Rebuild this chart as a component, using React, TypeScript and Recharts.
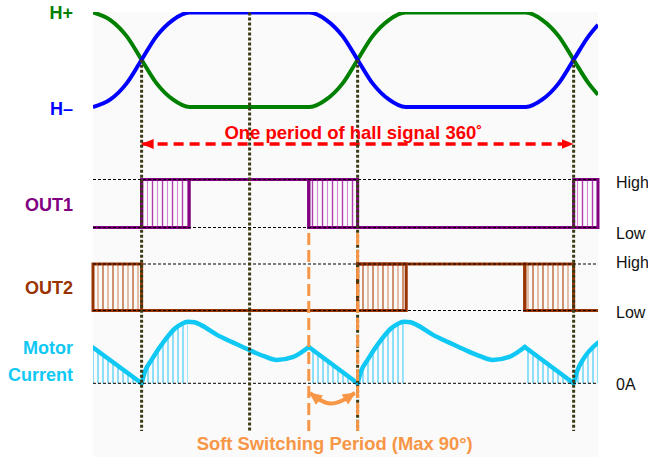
import {
  ComposedChart,
  Line,
  Area,
  XAxis,
  YAxis,
  CartesianGrid,
  ReferenceLine,
  ReferenceArea,
  ReferenceDot,
} from 'recharts';

const FONT = '"Liberation Sans", Arial, sans-serif';

// x axis = electrical degrees, 0 at the first hall crossing
const X_MIN = -40.5;
const X_MAX = 380.3;

// hall sensor levels (1 = high)
const hallDeg = [-40.5, -26, -12.5, 0, 12.5, 26, 40, 140, 154, 167.5, 180, 192.5, 206, 220, 320, 334, 347.5, 360, 372.5, 380.3];
const hPlus = [1, 0.92, 0.75, 0.5, 0.25, 0.08, 0, 0, 0.08, 0.25, 0.5, 0.75, 0.92, 1, 1, 0.92, 0.75, 0.5, 0.25, 0.13];
const hMinus = [0, 0.08, 0.25, 0.5, 0.75, 0.92, 1, 1, 0.92, 0.75, 0.5, 0.25, 0.08, 0, 0, 0.08, 0.25, 0.5, 0.75, 0.87];

// output levels outside the PWM boxes
const out1Deg = [-40.5, 0, 0, 139.3, 139.3, 380.3];
const out1Lvl = [0, 0, 1, 1, 0, 0];
const out2Deg = [0, 180, 180, 319.3, 319.3, 380.3];
const out2Lvl = [0, 0, 1, 1, 0, 0];

// soft switching PWM windows [start, end]
const out1Pwm = [[0, 39.7], [139.3, 180], [360, 380.3]];
const out2Pwm = [[-40.5, 0], [180, 220.5], [319.3, 360]];

// motor current (1 = peak)
const curDeg = [-40.5, 0, 2.75, 8.3, 19.4, 27.75, 33, 38.5, 44, 50, 62.5, 76.4, 89.7, 102, 112.5, 126.4, 139.3, 180, 182.75, 188.3, 199.4, 207.75, 213, 218.5, 224, 230, 242.5, 256.4, 269.7, 282, 292.5, 306.4, 319.3, 360, 362.75, 368.3, 380.3];
const curLvl = [0.58, 0, 0.19, 0.38, 0.7, 0.89, 0.96, 1, 0.99, 0.94, 0.79, 0.66, 0.54, 0.44, 0.38, 0.43, 0.59, 0, 0.19, 0.38, 0.7, 0.89, 0.96, 1, 0.99, 0.94, 0.79, 0.66, 0.54, 0.44, 0.38, 0.43, 0.59, 0, 0.19, 0.4, 0.66];
const curCorners = [0, 139.3, 180, 319.3, 360];

// dotted markers and the hall level each starts from
const markDeg = [0, 90, 180, 360];
const markFrom = [0.5, 1, 0.5, 0.5];

const softWin = [139.3, 180];

const laneNames = ['H+', 'H–', 'OUT1', 'OUT2', 'Motor\nCurrent'];
const levelNames = ['High', 'Low', 'High', 'Low', '0A'];

// layout: y axis is reversed so rows read top-down
const ROW = {
  hallHi: 12.5, hallLo: 107,
  o1Hi: 179.5, o1Lo: 227.5,
  o2Hi: 264, o2Lo: 310.5,
  zero: 383.3, amp: 61.6,
  markEnd: 431, softTop: 233,
  arrow: 144, title: 132.7, note: 443.3,
};
const laneRows = [13, 109, 204.7, 287.3, 361.2];
const laneColors = ['#008000', '#0000ff', '#800080', '#993300', '#10c8f4'];
const levelRows = [182.2, 233, 262, 312, 384.2];

const hallRow = (lv: number) => ROW.hallLo - lv * (ROW.hallLo - ROW.hallHi);
const hPlusData = hallDeg.map((x, i) => ({ x, y: hallRow(hPlus[i]) }));
const hMinusData = hallDeg.map((x, i) => ({ x, y: hallRow(hMinus[i]) }));
const out1Data = out1Deg.map((x, i) => ({ x, y: out1Lvl[i] ? ROW.o1Hi : ROW.o1Lo }));
const out2Data = out2Deg.map((x, i) => ({ x, y: out2Lvl[i] ? ROW.o2Hi : ROW.o2Lo }));
const curData = curDeg.map((x, i) => ({ x, y: ROW.zero - curLvl[i] * ROW.amp }));

// split current at its sharp corners
const curPieces: { x: number; y: number }[][] = [[]];
curData.forEach((p) => {
  curPieces[curPieces.length - 1].push(p);
  if (curCorners.includes(p.x)) curPieces.push([p]);
});

const hatchWins = [...out2Pwm, ...out1Pwm];
const hatchData = hatchWins.map(([a, b]) => curData.filter((p) => p.x >= a - 0.01 && p.x <= b + 0.01));

function LaneTick({ x, y, payload }: any) {
  const i = laneRows.findIndex((r) => Math.abs(r - payload.value) < 0.01);
  if (i < 0) return null;
  const lines = laneNames[i].split('\n');
  return (
    <text textAnchor="end" fill={laneColors[i]} fontSize={18} fontWeight="bold" fontFamily={FONT}>
      {lines.map((t, k) => (
        <tspan key={k} x={x} y={y + (k - (lines.length - 1) / 2) * 26.7} dy="0.36em">
          {t}
        </tspan>
      ))}
    </text>
  );
}

function LevelTick({ x, y, payload }: any) {
  const i = levelRows.findIndex((r) => Math.abs(r - payload.value) < 0.01);
  if (i < 0) return null;
  return (
    <text x={x} y={y} dy="0.36em" textAnchor="start" fill="#111" fontSize={16} fontFamily={FONT}>
      {levelNames[i]}
    </text>
  );
}

const line = { dot: false, activeDot: false, isAnimationActive: false, dataKey: 'y' } as const;

export default function App() {
  return (
    <div style={{ position: 'absolute', left: 0, top: 0 }}>
      <ComposedChart width={648} height={457} margin={{ top: 12, right: 0, bottom: 0, left: 0 }}>
        <defs>
          <pattern id="hatch1" patternUnits="userSpaceOnUse" x="0" y="0" width="10" height="10">
            <line x1="2.5" y1="0" x2="2.5" y2="10" stroke="#b03cb0" strokeWidth="1.4" />
            <line x1="7.5" y1="0" x2="7.5" y2="10" stroke="#d585d5" strokeWidth="1.1" />
          </pattern>
          <pattern id="hatch2" patternUnits="userSpaceOnUse" x="0" y="0" width="10" height="10">
            <line x1="3" y1="0" x2="3" y2="10" stroke="#b85a28" strokeWidth="1.3" />
            <line x1="8" y1="0" x2="8" y2="10" stroke="#cf8a60" strokeWidth="1.1" />
          </pattern>
          <pattern id="hatchC" patternUnits="userSpaceOnUse" x="0" y="0" width="5" height="10">
            <line x1="3" y1="0" x2="3" y2="10" stroke="#5fd3f6" strokeWidth="1.4" />
          </pattern>
          <marker id="headRed" viewBox="0 0 12 10" refX="12" refY="5" markerWidth="12" markerHeight="10" markerUnits="userSpaceOnUse" orient="auto-start-reverse">
            <path d="M0,0 L12,5 L0,10 z" fill="#ff0000" />
          </marker>
          <marker id="headOrange" viewBox="0 0 13 12" refX="12" refY="6" markerWidth="13" markerHeight="12" markerUnits="userSpaceOnUse" orient="auto-start-reverse">
            <path d="M0,0 L13,6 L0,12 z" fill="#f79646" />
          </marker>
        </defs>
        <CartesianGrid fill="#fafafa" stroke="none" horizontal={false} vertical={false} />
        <XAxis type="number" dataKey="x" domain={[X_MIN, X_MAX]} allowDataOverflow hide />
        <YAxis
          type="number"
          domain={[12, 457]}
          reversed
          allowDataOverflow
          width={93}
          ticks={laneRows}
          interval={0}
          tick={<LaneTick />}
          tickLine={false}
          axisLine={false}
          tickSize={0}
          tickMargin={20}
        />
        <YAxis
          yAxisId="r"
          orientation="right"
          type="number"
          domain={[12, 457]}
          reversed
          allowDataOverflow
          width={50}
          ticks={levelRows}
          interval={0}
          tick={<LevelTick />}
          tickLine={false}
          axisLine={false}
          tickSize={0}
          tickMargin={18}
        />

        {hatchData.map((d, i) => (
          <Area key={`h${i}`} data={d} dataKey="y" type="monotone" baseValue={ROW.zero} stroke="none" fill="url(#hatchC)" fillOpacity={1} isAnimationActive={false} dot={false} activeDot={false} />
        ))}
        {out1Pwm.map(([a, b], i) => (
          <ReferenceArea key={`p1${i}`} x1={a} x2={b} y1={ROW.o1Hi} y2={ROW.o1Lo} fill="url(#hatch1)" fillOpacity={1} stroke="#800080" strokeWidth={3} />
        ))}
        {out2Pwm.map(([a, b], i) => (
          <ReferenceArea key={`p2${i}`} x1={a} x2={b} y1={ROW.o2Hi} y2={ROW.o2Lo} fill="url(#hatch2)" fillOpacity={1} stroke="#993300" strokeWidth={3} />
        ))}

        <Line {...line} data={out1Data} type="linear" stroke="#800080" strokeWidth={3} />
        <Line {...line} data={out2Data} type="linear" stroke="#993300" strokeWidth={3} />
        <Line {...line} data={hPlusData} type="monotone" stroke="#008000" strokeWidth={4} />
        <Line {...line} data={hMinusData} type="monotone" stroke="#0000ff" strokeWidth={4} />
        {curPieces.filter((p) => p.length > 1).map((p, i) => (
          <Line key={`c${i}`} {...line} data={p} type="monotone" stroke="#10c8f4" strokeWidth={4.5} strokeLinecap="round" />
        ))}

        {[ROW.o1Hi, ROW.o1Lo, ROW.o2Hi, ROW.o2Lo, ROW.zero].map((r) => (
          <ReferenceLine key={`l${r}`} y={r} stroke="#000" strokeWidth={1} strokeDasharray="3 2" />
        ))}

        <Line {...line} data={[{ x: 0, y: ROW.arrow }, { x: 360, y: ROW.arrow }]} type="linear" stroke="#ff0000" strokeWidth={3.5} strokeDasharray="10 6" markerStart="url(#headRed)" markerEnd="url(#headRed)" />

        {markDeg.map((d, i) => (
          <ReferenceLine key={`m${d}`} segment={[{ x: d, y: hallRow(markFrom[i]) }, { x: d, y: ROW.markEnd }]} stroke="#3a3a14" strokeWidth={3} strokeDasharray="3 2" />
        ))}
        {softWin.map((d) => (
          <ReferenceLine key={`s${d}`} segment={[{ x: d, y: ROW.softTop }, { x: d, y: ROW.markEnd }]} stroke="#f79646" strokeWidth={3} strokeDasharray="12 5" />
        ))}
        <Line {...line} data={[{ x: 140.3, y: 393 }, { x: 157.75, y: 403.5 }, { x: 177.7, y: 393 }]} type="monotone" stroke="#f79646" strokeWidth={4} markerStart="url(#headOrange)" markerEnd="url(#headOrange)" />

        <ReferenceDot x={176.5} y={ROW.title} r={0} fill="none" stroke="none" label={{ value: 'One period of hall signal 360˚', position: 'center', fill: '#ff0000', fontSize: 18.5, fontWeight: 'bold', fontFamily: FONT }} />
        <ReferenceDot x={160.9} y={ROW.note} r={0} fill="none" stroke="none" label={{ value: 'Soft Switching Period (Max 90°)', position: 'center', fill: '#f79646', fontSize: 18.4, fontWeight: 'bold', fontFamily: FONT }} />
      </ComposedChart>
    </div>
  );
}
